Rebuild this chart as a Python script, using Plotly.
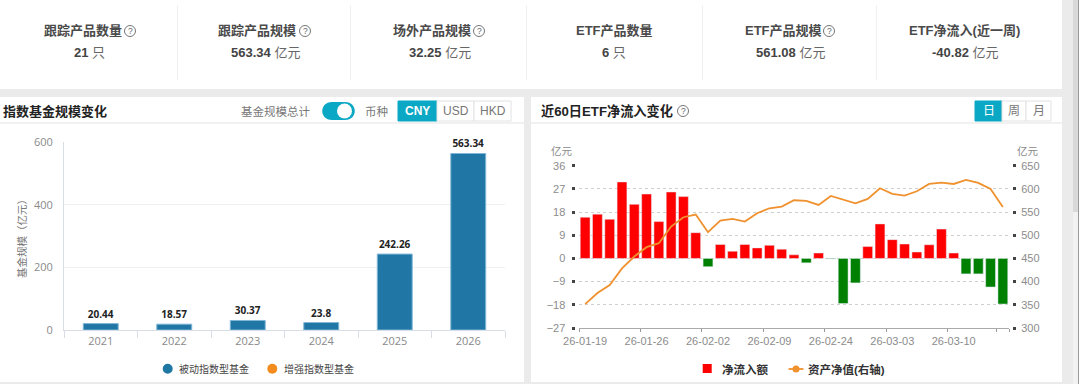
import plotly.graph_objects as go

# ---------- data ----------
years = ["2021", "2022", "2023", "2024", "2025", "2026"]
passive_size = [20.44, 18.57, 30.37, 23.8, 242.26, 563.34]

dates = ["26-01-19", "26-01-20", "26-01-21", "26-01-22", "26-01-23",
         "26-01-26", "26-01-27", "26-01-28", "26-01-29", "26-01-30",
         "26-02-02", "26-02-03", "26-02-04", "26-02-05", "26-02-06",
         "26-02-09", "26-02-10", "26-02-11", "26-02-12", "26-02-13",
         "26-02-24", "26-02-25", "26-02-26", "26-02-27", "26-03-02",
         "26-03-03", "26-03-04", "26-03-05", "26-03-06", "26-03-09",
         "26-03-10", "26-03-11", "26-03-12", "26-03-13", "26-03-16"]
net_inflow = [16, 17.2, 15.2, 29.7, 21, 25, 14.3, 25.8, 24, 10,
              -3.2, 5.4, 2.8, 5.4, 4.1, 5.1, 3.6, 1.4, -1.7, 2.1,
              -0.2, -17.5, -9.5, 4.6, 13.4, 7.3, 5.6, 2.5, 5.3, 11.4,
              2.1, -6, -6, -11.1, -17.7]
net_assets = [351.6, 375.3, 392.5, 428.4, 454.2, 474.3, 482.9, 518.8, 538.9, 544.6,
              506.6, 531.7, 535.3, 529.6, 547.5, 558.2, 561.8, 575.5, 574, 565.4,
              584.8, 577.6, 569, 578.3, 601.3, 589.1, 585.5, 594.8, 610.6, 613.5,
              610.6, 619.2, 612.8, 599.9, 561.08]

kpi_titles = ["跟踪产品数量", "跟踪产品规模", "场外产品规模", "ETF产品数量", "ETF产品规模", "ETF净流入(近一周)"]
kpi_values = ["21", "563.34", "32.25", "6", "561.08", "-40.82"]
kpi_units = ["只", "亿元", "亿元", "只", "亿元", "亿元"]
kpi_title_x = [82.5, 257, 431.5, 614, 783, 964]
kpi_value_x = [89, 265, 439.5, 614, 790, 965]
kpi_helps = [130, 305, 479, None, 829, None]

FONT = "Liberation Sans, Noto Sans CJK SC, sans-serif"
W, H = 1080, 384
TEAL = "#0aa8c4"
BLUE = "#2077a5"
ORANGE = "#f0912f"


def px(x):
    return x / W


def py(y):
    return 1 - y / H


shapes, annos = [], []


def rect(x0, y0, x1, y1, fill, line=None, layer="below"):
    shapes.append(dict(type="rect", xref="paper", yref="paper", x0=px(x0), x1=px(x1), y0=py(y1), y1=py(y0),
                       fillcolor=fill, line=dict(color=line or fill, width=1 if line else 0), layer=layer))


def label(x, y, text, size=12, color="#444", anchor="center"):
    annos.append(dict(xref="paper", yref="paper", x=px(x), y=py(y), text=text, showarrow=False, xanchor=anchor,
                      yanchor="middle", font=dict(size=size, color=color, family=FONT)))


def dot(x, y, r, fill):
    shapes.append(dict(type="circle", xref="paper", yref="paper", x0=px(x - r), x1=px(x + r), y0=py(y + r),
                       y1=py(y - r), fillcolor=fill, line=dict(width=0), layer="above"))


def help_icon(x, y):
    shapes.append(dict(type="circle", xref="paper", yref="paper", x0=px(x - 5.5), x1=px(x + 5.5), y0=py(y + 5.5),
                       y1=py(y - 5.5), line=dict(color="#777", width=1), layer="above"))
    label(x, y, "?", 8.5, "#666")


# page chrome
rect(0, 0, W, H, "#ebebeb")
rect(0, 0, 1062, 89, "#ffffff")
rect(0, 97, 524, 382, "#ffffff")
rect(531, 97, 1062, 382, "#ffffff")
rect(1073, 212, 1078, H, "#f2f2f2")
rect(1073, 0, 1078, 212, "#d9d9d9")
rect(1078, 0, 1079, H, "#9a9a9a")
rect(1079, 0, W, H, "#ffffff")
rect(0, 122.5, 524, 123.5, "#e4e4e4")
rect(531, 122.5, 1062, 123.5, "#e4e4e4")
for x in [177, 350, 526, 702, 876]:
    rect(x, 5, x + 1, 80, "#f1f1f1")

# KPI cards
for tx, vx, t, v, u, h in zip(kpi_title_x, kpi_value_x, kpi_titles, kpi_values, kpi_units, kpi_helps):
    label(tx, 31, f"<b>{t}</b>", 13, "#4a4a4a")
    label(vx, 52.5, f"<b>{v}</b> <span style='color:#666'>{u}</span>", 13, "#444")
    if h is not None:
        help_icon(h, 31)

# panel headers
label(1, 111, "<b>指数基金规模变化</b>", 13, "#222", "left")
label(539, 111, "<b>近60日ETF净流入变化</b>", 13.2, "#222", "left")
help_icon(683, 111)
label(312, 111, "基金规模总计", 11.5, "#777", "right")
label(376, 111, "币种", 11.5, "#777")
shapes.append(dict(type="path", xref="paper", yref="paper",
                   path=f"M {px(332)} {py(102)} L {px(345)} {py(102)} C {px(358)} {py(102)} {px(358)} {py(120)} {px(345)} {py(120)} "
                        f"L {px(332)} {py(120)} C {px(319)} {py(120)} {px(319)} {py(102)} {px(332)} {py(102)} Z",
                   fillcolor=TEAL, line=dict(width=0), layer="above"))
dot(344.5, 111, 7.5, "#ffffff")
for x0, x1, t, on in [(398, 437, "CNY", True), (437, 474, "USD", False), (474, 511, "HKD", False),
                      (975, 1002, "日", True), (1002, 1026, "周", False), (1026, 1051, "月", False)]:
    rect(x0, 101, x1, 121, TEAL if on else "#ffffff", TEAL if on else "#e2e2e2")
    label((x0 + x1) / 2, 111, f"<b>{t}</b>" if t == "CNY" else t, 12, "#ffffff" if on else "#777")

label(562, 151, "亿元", 10.5, "#8a8a8a")
label(1028, 151, "亿元", 10.5, "#8a8a8a")

# legend keys and labels, placed to the pixel
dot(167.7, 368.7, 5, "#1f78a4")
label(177, 369, "被动指数型基金", 10, "#444", "left")
dot(272.3, 368.7, 5, "#f28c1e")
label(282, 369, "增强指数型基金", 10, "#444", "left")
rect(702.7, 364, 711.7, 373, "#ff0000", layer="above")
label(720, 369, "<b>净流入额</b>", 11.5, "#333", "left")
shapes.append(dict(type="line", xref="paper", yref="paper", x0=px(788.5), x1=px(803.5), y0=py(369), y1=py(369),
                   line=dict(color=ORANGE, width=1.8), layer="above"))
dot(796, 369, 3.5, ORANGE)
label(806, 369, "<b>资产净值(右轴)</b>", 11.5, "#333", "left")

fig = go.Figure()

# left chart
fig.add_bar(x=years, y=passive_size, name="被动指数型基金", xaxis="x", yaxis="y",
            marker=dict(color=BLUE, line=dict(color="#7fb6d6", width=1)),
            text=[f"<b>{v}</b>" for v in passive_size], textposition="outside", cliponaxis=False,
            textfont=dict(size=10, color="#222", family="Open Sans, Noto Sans CJK SC"), width=0.475)

# right chart
fig.add_bar(x=dates, y=net_inflow, xaxis="x2", yaxis="y2", name="净流入额",
            marker=dict(color=["#ff0000" if v >= 0 else "#008000" for v in net_inflow]), width=0.8, cliponaxis=False)
fig.add_scatter(x=dates, y=net_assets, xaxis="x2", yaxis="y3", mode="lines", name="资产净值(右轴)",
                line=dict(color=ORANGE, width=1.8))

GRAY = "#8c8c8c"
x2_ticks = dates[0::5] + [dates[-1]]
x2_text = dates[0::5] + [""]
fig.update_layout(
    width=W, height=H, margin=dict(l=0, r=0, t=0, b=0, autoexpand=False), autosize=False, showlegend=False,
    paper_bgcolor="#ebebeb", plot_bgcolor="rgba(0,0,0,0)", font=dict(family=FONT), shapes=shapes, annotations=annos,
    bargap=0.2,
    xaxis=dict(domain=[px(64), px(505)], anchor="y", type="category", tickson="boundaries", ticks="outside", ticklen=7,
               tickcolor="#d8dee6", showline=True, linecolor="#d8dee6", showgrid=False, zeroline=False, tickangle=0,
               ticklabelstandoff=1,
               tickfont=dict(size=11, color="#8a8a8a", family="Open Sans, Noto Sans CJK SC")),
    yaxis=dict(domain=[py(330), py(142)], anchor="x", range=[0, 600], tickvals=[0, 200, 400, 600], showline=True,
               linecolor="#d8dee6", gridcolor="#eef1f4", zeroline=False, ticks="", ticklen=0, ticklabelstandoff=8,
               tickfont=dict(size=11, color="#8a8a8a", family="Open Sans, Noto Sans CJK SC"),
               title=dict(text="基金规模（亿元）", font=dict(size=10.5, color="#777"), standoff=5)),
    xaxis2=dict(domain=[px(579), px(1009)], anchor="y2", type="category", tickson="boundaries", ticks="outside", ticklen=3,
                tickcolor="#999", tickmode="array", tickvals=x2_ticks, ticktext=x2_text, tickangle=0,
                showline=True, linecolor="#aaa", showgrid=False, zeroline=False, ticklabelstandoff=3,
                tickfont=dict(size=11, color=GRAY)),
    yaxis2=dict(domain=[py(328), py(165.7)], anchor="free", position=px(574.5), range=[-27, 36], tickvals=list(range(-27, 37, 9)),
                showline=False, ticks="outside", ticklen=3, tickwidth=3, tickcolor="#444", griddash="dot", gridcolor="#cfcfcf",
                gridwidth=1, zeroline=False, ticklabelstandoff=4, tickfont=dict(size=11, color=GRAY)),
    yaxis3=dict(domain=[py(328), py(165.7)], anchor="free", position=px(1012), overlaying="y2", side="right", range=[300, 650],
                tickvals=list(range(300, 651, 50)), showline=False, ticks="outside", ticklen=3, tickwidth=3, tickcolor="#444",
                showgrid=False, zeroline=False, ticklabelstandoff=3, tickfont=dict(size=11, color=GRAY)),
)

fig.write_html("out.html", config=dict(displayModeBar=False),
               post_script="document.body.style.margin='0';document.body.style.overflow='hidden';")
